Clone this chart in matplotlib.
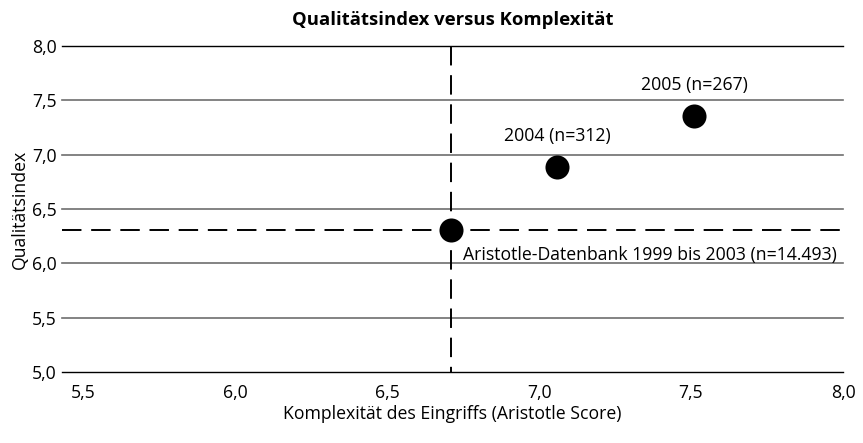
import matplotlib
matplotlib.use("Agg")
from matplotlib import pyplot as plt

plt.rcParams['font.family'] = ['Open Sans', 'DejaVu Sans']

# data
komplexitaet = [6.71, 7.06, 7.51]
qualitaet = [6.31, 6.89, 7.36]
labels = ['Aristotle-Datenbank 1999 bis 2003 (n=14.493)', '2004 (n=312)', '2005 (n=267)']
ref_x = 6.71
ref_y = 6.31
xticks = [5.5, 6.0, 6.5, 7.0, 7.5, 8.0]
yticks = [5.0, 5.5, 6.0, 6.5, 7.0, 7.5, 8.0]

def de(v):
    return f"{v:.1f}".replace('.', ',')

fs = 12.7

fig = plt.figure(figsize=(8.63, 4.43), dpi=100)
ax = fig.add_axes([62/863, 1-372/443, (843-62)/863, (372-46)/443])

for y in yticks:
    col = 'black' if y in (5.0, 8.0) else '#6e6e6e'
    ax.axhline(y, color=col, lw=1.0 if y in (5.0, 8.0) else 1.2, zorder=1, clip_on=False)

ax.plot([ref_x, ref_x], [8.0, 5.0], color='black', lw=1.4, dashes=(10, 5), zorder=2)
ax.plot([5.43, 7.99], [ref_y, ref_y], color='black', lw=1.4, dashes=(10, 5), zorder=2)

ax.scatter(komplexitaet, qualitaet, s=300, color='black', zorder=3, linewidths=0)

ax.annotate(labels[0], (komplexitaet[0], qualitaet[0]), xytext=(9, -18),
            textcoords='offset points', ha='left', va='center', fontsize=fs)
for x, y, t in zip(komplexitaet[1:], qualitaet[1:], labels[1:]):
    ax.annotate(t, (x, y), xytext=(0, 22), textcoords='offset points',
                ha='center', va='center', fontsize=fs)

ax.set_xlim(5.43, 7.985)
ax.set_ylim(5.0, 8.0)
ax.set_xticks(xticks)
ax.set_xticklabels([de(v) for v in xticks], fontsize=fs)
ax.set_yticks(yticks)
ax.set_yticklabels([de(v) for v in yticks], fontsize=fs)
ax.tick_params(axis='y', length=0, pad=4)
ax.tick_params(axis='x', length=0, pad=9)
for s in ax.spines.values():
    s.set_visible(False)

ax.set_title('Qualitätsindex versus Komplexität', fontsize=13.3, fontweight='bold', pad=15)
ax.set_xlabel('Komplexität des Eingriffs (Aristotle Score)', fontsize=fs, labelpad=2)
ax.set_ylabel('Qualitätsindex', fontsize=fs, labelpad=2)

fig.savefig('out.png', dpi=100)
